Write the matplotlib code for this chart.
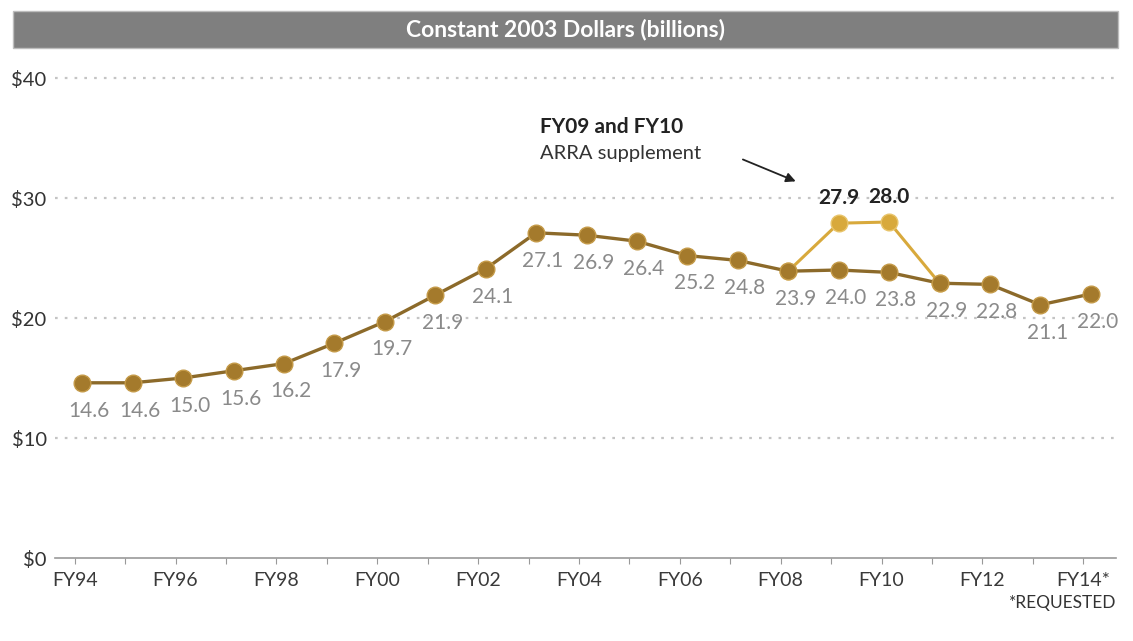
import numpy as np
import matplotlib.pyplot as plt
from matplotlib.patches import Rectangle

plt.rcParams['font.family'] = ['Lato', 'DejaVu Sans']

# data: constant 2003 dollars (billions)
years = ['FY94', 'FY95', 'FY96', 'FY97', 'FY98', 'FY99', 'FY00', 'FY01', 'FY02', 'FY03',
         'FY04', 'FY05', 'FY06', 'FY07', 'FY08', 'FY09', 'FY10', 'FY11', 'FY12', 'FY13', 'FY14']
values = [14.6, 14.6, 15.0, 15.6, 16.2, 17.9, 19.7, 21.9, 24.1, 27.1,
          26.9, 26.4, 25.2, 24.8, 23.9, 24.0, 23.8, 22.9, 22.8, 21.1, 22.0]
arra_years = ['FY08', 'FY09', 'FY10', 'FY11']
arra_values = [23.9, 27.9, 28.0, 22.9]
tick_labels = ['FY94', '', 'FY96', '', 'FY98', '', 'FY00', '', 'FY02', '', 'FY04', '',
               'FY06', '', 'FY08', '', 'FY10', '', 'FY12', '', 'FY14*']
y_ticks = [0, 10, 20, 30, 40]

main_col = '#8c6a2a'
main_marker = '#a47a2c'
arra_col = '#d8a93c'
label_col = '#8a8a8a'

W, H = 1133, 641
fig = plt.figure(figsize=(W / 100, H / 100), dpi=100)
ax = fig.add_axes([55 / W, 83 / H, 1061 / W, 492 / H])

x = np.arange(len(values))
ax_x = [years.index(y) for y in arra_years]

# ARRA supplement line first so the main line sits on top
ax.plot(ax_x, arra_values, color=arra_col, lw=2.2, marker='o', ms=12,
        mfc=arra_col, mec='#e8c46a', mew=1, zorder=3)
ax.plot(x, values, color=main_col, lw=2.4, marker='o', ms=12,
        mfc=main_marker, mec='#c49a48', mew=1, zorder=4)

for xi, v in zip(x, values):
    ax.annotate(f'{v:.1f}', (xi, v), xytext=(5, -20), textcoords='offset points',
                ha='center', va='center', fontsize=15, color=label_col)
for xi, v in zip(ax_x[1:3], arra_values[1:3]):
    ax.annotate(f'{v:.1f}', (xi, v), xytext=(0, 18), textcoords='offset points',
                ha='center', va='center', fontsize=15, color='#222222', fontweight='bold')

# callout
ax.text(9.08, 35.9, 'FY09 and FY10', fontsize=15, color='#222222',
        fontweight='bold', ha='left', va='center')
ax.text(9.08, 33.75, 'ARRA supplement', fontsize=14.5, color='#333333',
        ha='left', va='center')
ax.annotate('', xy=(14.2, 31.3), xytext=(13.05, 33.3),
            arrowprops=dict(arrowstyle='-|>', color='#222222', lw=1.3, mutation_scale=14))

ax.set_xlim(-0.54, 20.5)
ax.set_ylim(0, 41)
ax.set_yticks(y_ticks)
ax.set_yticklabels([f'${v}' for v in y_ticks], fontsize=14.5, color='#333333')
ax.set_xticks(x - 0.15)
ax.set_xticklabels(tick_labels, fontsize=14, color='#3a3a3a')
ax.tick_params(axis='y', length=0, pad=6)
ax.tick_params(axis='x', length=4, color='#999999', pad=6)

for g in [10, 20, 30, 40]:
    ax.axhline(g, color='#c4c4c4', lw=1.6, ls=(0, (1.2, 3.2)), zorder=1)
for s in ['top', 'right', 'left']:
    ax.spines[s].set_visible(False)
ax.spines['bottom'].set_color('#999999')
ax.spines['bottom'].set_linewidth(1.2)

# header bar
fig.add_artist(Rectangle((13 / W, 1 - 48 / H), 1105 / W, 37 / H, transform=fig.transFigure,
                         facecolor='#7f7f7f', edgecolor='#bdbdbd', lw=1))
fig.text(566 / W, 1 - 30 / H, 'Constant 2003 Dollars (billions)', ha='center', va='center',
         fontsize=16.5, color='white', fontweight='bold')

fig.text(1116 / W, 1 - 603 / H, '*REQUESTED', ha='right', va='center', fontsize=12.5,
         color='#333333')

fig.savefig('out.png', dpi=100)
